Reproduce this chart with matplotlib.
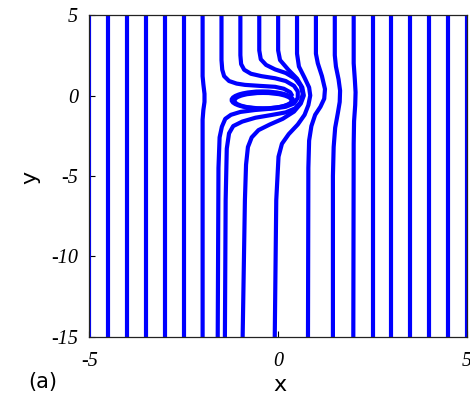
import numpy as np
import matplotlib.pyplot as plt
from matplotlib.patches import Ellipse

plt.rcParams['axes.unicode_minus'] = False

# undisturbed field lines (straight)
x_straight = [-5, -4.5, -4, -3.5, -3, -2.5, 2.5, 3, 3.5, 4, 4.5, 5]

# bent field lines near the particle, (x, y) pairs, top to bottom
line_m2 = [(-2, 5), (-2, 1.2), (-1.98, 0.7), (-1.95, 0.1), (-1.95, -0.4),
           (-1.98, -0.9), (-2, -1.5), (-2, -15)]
line_m15 = [(-1.5, 5), (-1.5, 2.2), (-1.48, 1.6), (-1.43, 1.2), (-1.3, 0.9),
            (-1.1, 0.74), (-0.88, 0.66), (-0.5, 0.6), (-0.08, 0.54),
            (0.15, 0.42), (0.32, 0.2), (0.38, -0.05)]
line_m1 = [(-1, 5), (-1, 2.5), (-0.98, 1.95), (-0.9, 1.6), (-0.72, 1.35),
           (-0.44, 1.2), (-0.08, 1.07), (0.2, 0.9), (0.42, 0.6), (0.52, 0.25),
           (0.52, -0.15), (0.42, -0.5), (0.2, -0.7), (-0.08, -0.8),
           (-0.61, -0.9), (-1.0, -1.02), (-1.25, -1.2), (-1.4, -1.45),
           (-1.49, -1.94), (-1.55, -2.6), (-1.58, -4.5), (-1.6, -15)]
line_m05 = [(-0.5, 5), (-0.5, 2.8), (-0.46, 2.25), (-0.32, 1.9), (-0.08, 1.62),
            (0.2, 1.4), (0.45, 1.05), (0.6, 0.6), (0.65, 0.1), (0.6, -0.4),
            (0.45, -0.8), (0.2, -1.05), (-0.2, -1.22), (-0.6, -1.38),
            (-0.95, -1.62), (-1.19, -1.9), (-1.3, -2.35), (-1.36, -3.3),
            (-1.39, -6.5), (-1.41, -15)]
line_0 = [(0, 5), (0, 2.8), (0.05, 2.2), (0.27, 1.6), (0.5, 1.05), (0.64, 0.5),
          (0.68, 0.0), (0.6, -0.5), (0.42, -1.0), (0.12, -1.45), (-0.22, -1.8),
          (-0.52, -2.15), (-0.7, -2.6), (-0.8, -3.2), (-0.85, -4.3),
          (-0.88, -6.5), (-0.94, -15)]
line_05 = [(0.5, 5), (0.5, 2.6), (0.55, 1.8), (0.7, 1.1), (0.82, 0.5),
           (0.85, 0.0), (0.8, -0.6), (0.7, -1.2), (0.52, -1.8), (0.28, -2.4),
           (0.1, -3.0), (0.01, -3.8), (-0.05, -6.5), (-0.09, -15)]
line_1 = [(1, 5), (1, 2.6), (1.05, 2.0), (1.16, 1.2), (1.24, 0.4),
          (1.22, -0.2), (1.12, -0.7), (0.98, -1.2), (0.88, -1.9),
          (0.82, -2.8), (0.8, -4.5), (0.79, -15)]
line_15 = [(1.5, 5), (1.5, 2.5), (1.53, 1.8), (1.6, 1.0), (1.64, 0.3),
           (1.63, -0.4), (1.58, -1.1), (1.51, -2.0), (1.47, -3.2),
           (1.45, -5), (1.45, -15)]
line_2 = [(2, 5), (2, 2.0), (2.03, 1.0), (2.05, 0.2), (2.04, -0.6),
          (2.01, -1.6), (2, -3), (1.99, -15)]

# closed loop around the particle
loop_center = [(-0.42, -0.28), (-0.4, -0.32)]
loop_width = [1.62, 1.52]
loop_height = [1.06, 0.96]

blue = '#0000ff'
lw = 3.0

fig = plt.figure(figsize=(4.70, 3.99), dpi=100)
ax = fig.add_axes([0.19, 0.1554, 0.8036, 0.807])

for xs in x_straight:
    ax.plot([xs, xs], [-15, 5], color=blue, lw=lw, solid_capstyle='butt')

for line in [line_m2, line_m15, line_m1, line_m05, line_0, line_05,
             line_1, line_15, line_2]:
    pts = np.array(line)
    ax.plot(pts[:, 0], pts[:, 1], color=blue, lw=lw,
            solid_joinstyle='round', solid_capstyle='butt')

for c, w, h in zip(loop_center, loop_width, loop_height):
    ax.add_patch(Ellipse(c, w, h, fill=False, edgecolor=blue, lw=lw))

ax.set_xlim(-5, 5)
ax.set_ylim(-15, 5)
ax.set_xticks([-5, 0, 5])
ax.set_yticks([-15, -10, -5, 0, 5])
ax.tick_params(direction='in', length=4, width=0.8)
ax.tick_params(axis='x', pad=11)
ax.tick_params(axis='y', pad=8)
for lab in ax.get_xticklabels() + ax.get_yticklabels():
    lab.set_family('Liberation Serif')
    lab.set_style('italic')
    lab.set_fontsize(14.5)
for sp in ax.spines.values():
    sp.set_linewidth(0.9)
    sp.set_color('#222222')

fig.text(0.596, 0.035, 'x', fontsize=16, ha='center', va='center',
         family='DejaVu Sans')
fig.text(0.064, 0.556, 'y', fontsize=16, ha='center', va='center',
         rotation=90, family='DejaVu Sans')
fig.text(0.092, 0.043, '(a)', fontsize=15, ha='center', va='center',
         family='DejaVu Sans')

fig.savefig('out.png', dpi=100)
